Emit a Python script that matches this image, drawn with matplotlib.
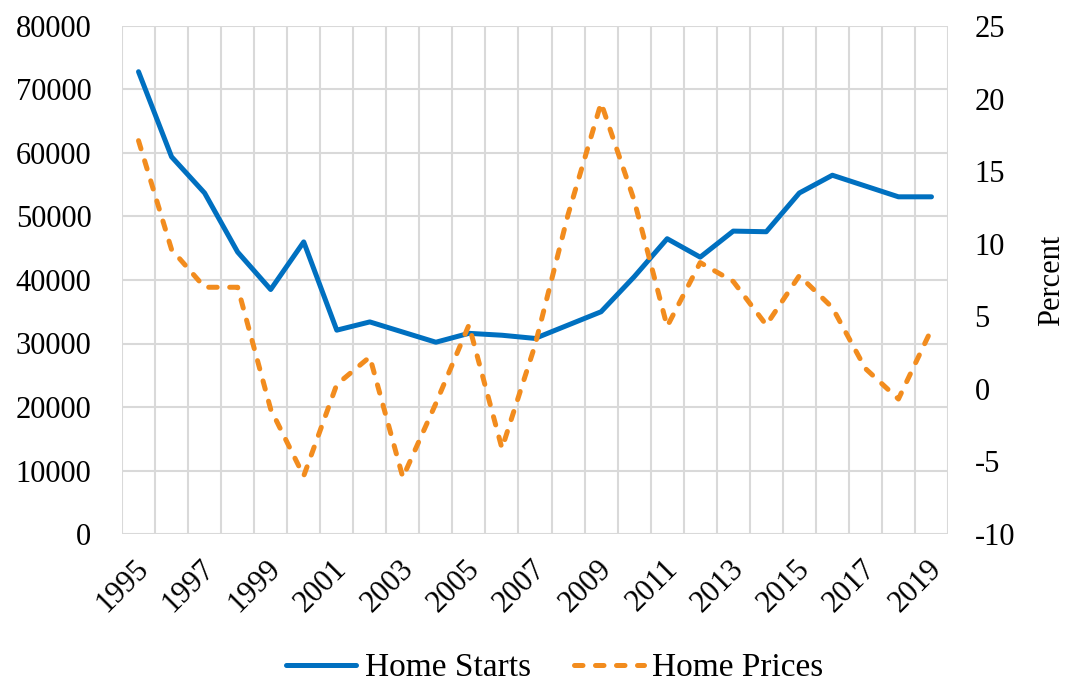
import matplotlib
matplotlib.use("Agg")
import matplotlib.pyplot as plt
import matplotlib.transforms as mtransforms
import numpy as np

years = [str(y) for y in range(1995, 2020)]
home_starts = [72800, 59400, 53700, 44400, 38500, 46000, 32100, 33400, 31800,
               30200, 31600, 31300, 30800, 32900, 35000, 40500, 46500, 43600,
               47700, 47600, 53700, 56500, 54800, 53100, 53100]
home_prices = [17.1, 9.6, 7.0, 7.0, -1.4, -6.0, 0.3, 2.2, -6.1,
               -1.0, 4.4, -4.1, 3.0, 12.0, 19.7, 13.0, 4.3, 8.7,
               7.4, 4.4, 7.8, 5.6, 1.4, -0.7, 4.1]
left_ticks = list(range(0, 80001, 10000))
right_ticks = list(range(-10, 26, 5))

plt.rcParams['font.family'] = ['Liberation Serif', 'DejaVu Serif']
plt.rcParams['axes.unicode_minus'] = False

blue = '#0070C0'
orange = '#F28C1E'
grid_c = '#D9D9D9'
fs = 22

fig = plt.figure(figsize=(10.67, 6.86), dpi=100)
ax = fig.add_axes([122 / 1067, 1 - 534 / 686, 826 / 1067, 508 / 686])
ax2 = ax.twinx()

x = np.arange(len(years))
ax.plot(x, home_starts, color=blue, lw=3.6, solid_capstyle='round',
        solid_joinstyle='round', label='Home Starts', zorder=3)
ax2.plot(x, home_prices, color=orange, lw=3.6, dashes=(1.7, 2.5),
         dash_capstyle='round', dash_joinstyle='round', label='Home Prices',
         zorder=3)

ax.set_xlim(-0.5, len(years) - 0.5)
ax.set_ylim(0, 80000)
ax2.set_ylim(-10, 25)
ax.set_yticks(left_ticks)
ax.set_yticklabels([str(v) for v in left_ticks])
ax2.set_yticks(right_ticks)
ax2.set_yticklabels([str(v) for v in right_ticks])

ax.set_xticks(x[::2])
ax.set_xticklabels(years[::2])
ax.set_xticks(np.arange(-0.5, len(years), 1), minor=True)

ax.grid(True, which='major', axis='y', color=grid_c, lw=1.5)
ax.grid(True, which='minor', axis='x', color=grid_c, lw=1.5)
ax.set_axisbelow(True)

for a in (ax, ax2):
    for s in a.spines.values():
        s.set_visible(False)
    a.tick_params(length=0, which='both', labelsize=fs)

ax.tick_params(axis='y', pad=22)
ax2.tick_params(axis='y', pad=19)
ax.tick_params(axis='x', pad=22)

offset = mtransforms.ScaledTranslation(6 / 100, 0, fig.dpi_scale_trans)
for lab in ax.get_xticklabels():
    lab.set_rotation(45)
    lab.set_ha('right')
    lab.set_va('center')
    lab.set_rotation_mode('anchor')
    lab.set_transform(lab.get_transform() + offset)

fig.text(1052 / 1067, 1 - 280 / 686, 'Percent', rotation=90,
         ha='center', va='center', fontsize=fs)

h1, l1 = ax.get_legend_handles_labels()
h2, l2 = ax2.get_legend_handles_labels()
fig.legend(h1 + h2, l1 + l2, loc='center', bbox_to_anchor=(555 / 1067, 1 - 668 / 686),
           ncol=2, frameon=False, fontsize=24, handlelength=2.1,
           handletextpad=0.25, columnspacing=1.3, borderaxespad=0)

fig.savefig('out.png', dpi=100)
